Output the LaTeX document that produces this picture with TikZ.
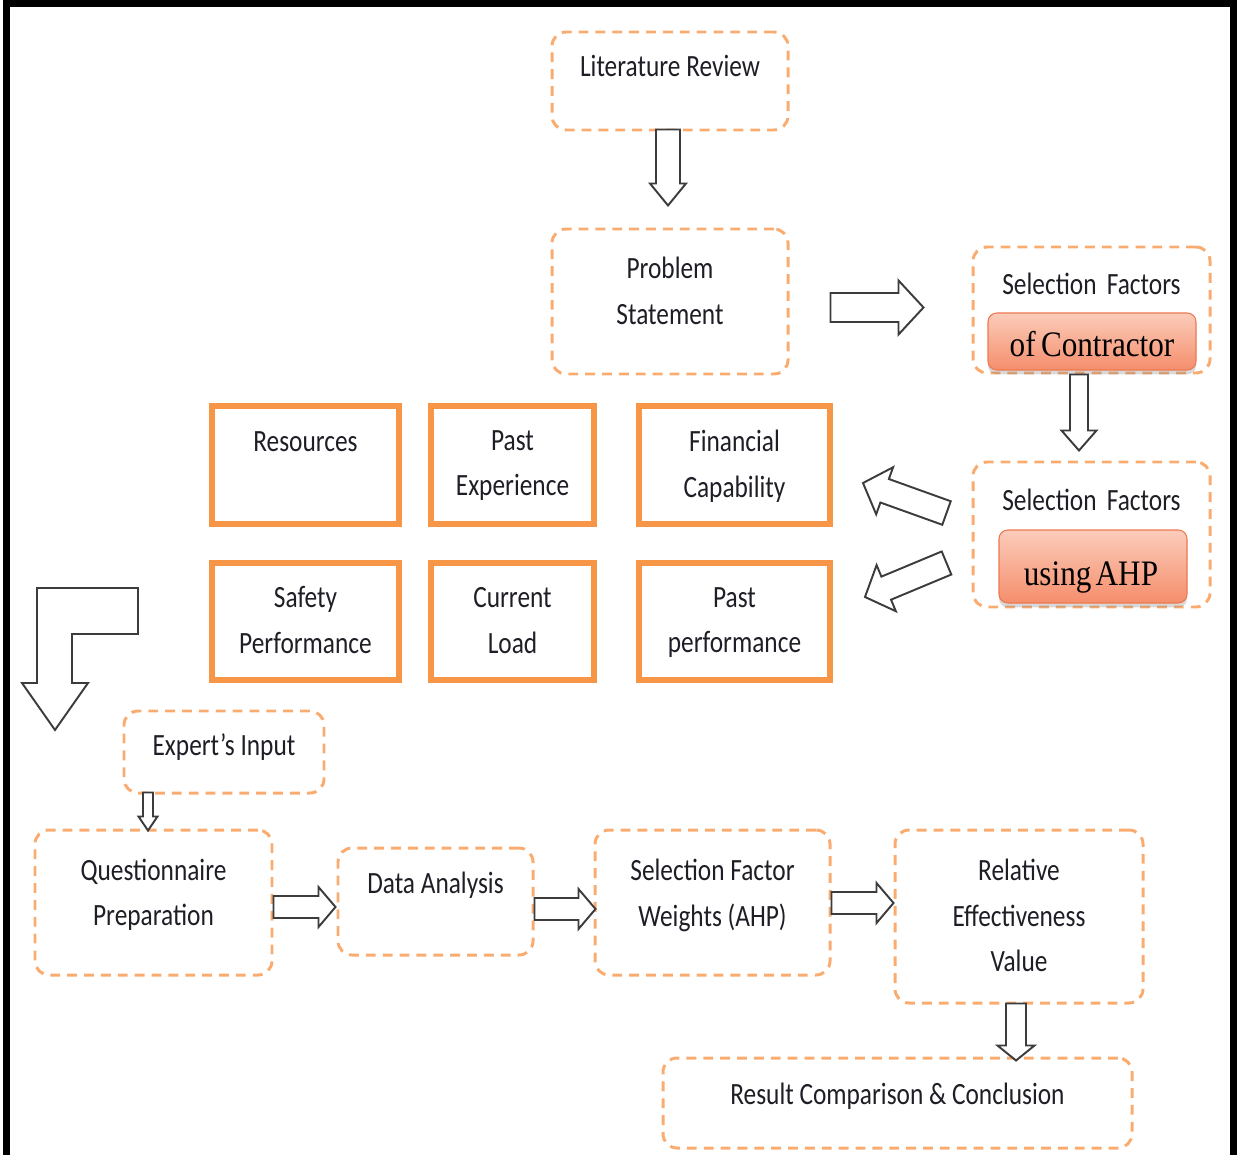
\documentclass[tikz,border=0pt]{standalone}
\usepackage{fontspec}
\newfontfamily\calib[FakeStretch=0.82]{Carlito}
\newfontfamily\tms[FakeStretch=0.87]{Liberation Serif}
\usetikzlibrary{calc,positioning,shadows}

\definecolor{dashorange}{RGB}{250,172,112}
\definecolor{boxorange}{RGB}{247,150,70}
\definecolor{arrowgray}{RGB}{60,60,60}
\definecolor{redorange}{RGB}{236,120,80}
\definecolor{peachtop}{RGB}{251,204,186}
\definecolor{peachbot}{RGB}{245,142,108}
\definecolor{txtgray}{RGB}{30,30,38}

\tikzset{
  boxsize/.style 2 args={minimum width=#1*0.02cm, minimum height=#2*0.02cm},
  dbox/.style={draw=dashorange, line width=1.7pt, dash pattern=on 5.6pt off 4pt, rounded corners=8pt, inner sep=0pt},
  obox/.style={draw=boxorange, line width=3.4pt, inner sep=0pt},
  pbox/.style={draw=redorange, line width=0.6pt, rounded corners=5pt, top color=peachtop, bottom color=peachbot,
    drop shadow={shadow xshift=0pt, shadow yshift=-2.5pt, opacity=0.3}, inner sep=0pt},
  lbl/.style={font=\calib\fontsize{17.6}{26}\selectfont, text=txtgray, align=center, inner sep=0pt,
    execute at begin node=\strut},
  serif/.style={font=\tms\fontsize{20.4}{24}\selectfont, text=black, inner sep=0pt, anchor=base},
  barrow/.style n args={3}{draw=arrowgray, fill=white, line width=1.1pt, line join=miter,
    to path={let \p1=(\tikztostart), \p2=(\tikztotarget), \p3=($(\p2)!#3*0.02cm!(\p1)$) in
      -- ($(\p1)!#1*0.02cm!90:(\p2)$) -- ($(\p3)!#1*0.02cm!90:(\p2)$) -- ($(\p3)!#2*0.02cm!90:(\p2)$)
      -- (\p2) -- ($(\p3)!#2*0.02cm!-90:(\p2)$) -- ($(\p3)!#1*0.02cm!-90:(\p2)$)
      -- ($(\p1)!#1*0.02cm!-90:(\p2)$) -- cycle}},
}

\begin{document}
\begin{tikzpicture}[x=0.02cm, y=-0.02cm]
\useasboundingbox (0,0) rectangle (1240,1155);

\draw[line width=0.14cm] (6.5,1170) -- (6.5,3.5) -- (1233.5,3.5) -- (1233.5,1170);

% top column
\node[dbox, boxsize={236}{98}] (lit) at (670,81) {};
\node[lbl, below=0.28cm of lit.north] (litT) {Literature Review};
\node[dbox, boxsize={236}{145}] (prob) at (670,301.5) {};
\node[lbl, below=0.58cm of prob.north] (probT) {Problem\\Statement};

% selection factors
\node[dbox, boxsize={237}{126}] (sf1) at (1091.5,310) {};
\node[lbl, below=0.34cm of sf1.north] (sf1T) {Selection\,\,Factors};
\node[pbox, boxsize={208}{57}] (contr) at (1092,341.5) {};
\node[serif] (contrT) at ($(contr.center)+(0,15.5)$) {of\hspace{0.15em}Contractor};

\node[dbox, boxsize={237}{145}] (sf2) at (1091.5,534.5) {};
\node[lbl, below=0.36cm of sf2.north] (sf2T) {Selection\,\,Factors};
\node[pbox, boxsize={188}{73}] (ahp) at (1093,566.5) {};
\node[serif] (ahpT) at ($(ahp.center)+(-2,18.5)$) {using\hspace{0.12em}AHP};

% factors
\node[obox, boxsize={187}{118}] (res) at (305.5,465) {};
\node[lbl, below=0.32cm of res.north] (resT) {Resources};
\node[obox, boxsize={163}{118}] (pexp) at (512.5,465) {};
\node[lbl, below=0.54cm of pexp.north] (pexpT) {Past\\Experience};
\node[obox, boxsize={191}{118}] (fin) at (734.5,465) {};
\node[lbl, below=0.54cm of fin.north] (finT) {Financial\\Capability};
\node[obox, boxsize={187}{117}] (safe) at (305.5,621.5) {};
\node[lbl, below=0.52cm of safe.north] (safeT) {Safety\\Performance};
\node[obox, boxsize={163}{117}] (load) at (512.5,621.5) {};
\node[lbl, below=0.54cm of load.north] (loadT) {Current\\Load};
\node[obox, boxsize={191}{117}] (pperf) at (734.5,621.5) {};
\node[lbl, below=0.54cm of pperf.north] (pperfT) {Past\\performance};

% bottom row
\node[dbox, boxsize={200}{82}] (expert) at (224,752) {};
\node[lbl, below=0.28cm of expert.north] (expertT) {Expert’s Input};
\node[dbox, boxsize={237}{145}] (quest) at (153.5,902.5) {};
\node[lbl, below=0.6cm of quest.north] (questT) {Questionnaire\\Preparation};
\node[dbox, boxsize={195}{107}] (data) at (435.5,901.5) {};
\node[lbl, below=0.3cm of data.north] (dataT) {Data Analysis};
\node[dbox, boxsize={235}{145}] (sfw) at (712.5,902.5) {};
\node[lbl, below=0.6cm of sfw.north] (sfwT) {Selection Factor\\Weights (AHP)};
\node[dbox, boxsize={248}{173}] (releff) at (1019,916.5) {};
\node[lbl, below=0.6cm of releff.north] (releffT) {Relative\\Effectiveness\\Value};
\node[dbox, boxsize={469}{90}] (result) at (897.5,1103) {};
\node[lbl, below=0.32cm of result.north] (resultT) {Result Comparison \& Conclusion};

% block arrows
\draw[barrow={12}{18}{22}] ($(lit.south)+(-2,-2)$) to ($(prob.north)+(-2,-22)$);
\draw[barrow={14.5}{27}{25}] ($(prob.east)+(41,6)$) to ($(sf1.west)+(-48,-2.5)$);
\draw[barrow={9}{17.5}{20}] ($(sf1.south)+(-12.5,0)$) to ($(sf2.north)+(-12.5,-10)$);
\draw[barrow={12.5}{25}{23}] ($(sf2.west)+(-25,-21.5)$) to ($(fin.east)+(30,18)$);
\draw[barrow={12.5}{25}{23}] ($(sf2.west)+(-25,28.5)$) to ($(pperf.east)+(32,-24.5)$);
\draw[barrow={5}{9.5}{14}] ($(quest.north |- expert.south)+(-5.5,-2)$) to ($(quest.north)+(-5.5,2)$);
\draw[barrow={11}{20}{17}] ($(quest.east)+(0,4.5)$) to ($(data.west)+(-1,5.5)$);
\draw[barrow={11}{20}{17}] ($(data.east)+(0,7.5)$) to ($(sfw.west)+(2,6.5)$);
\draw[barrow={11}{20}{17}] ($(sfw.east)+(0,0.5)$) to ($(releff.west)+(0,-13.5)$);
\draw[barrow={10}{18.5}{15}] ($(releff.south)+(-3,-1)$) to ($(releff.south |- result.north)+(-3,4)$);

\draw[draw=arrowgray, fill=white, line width=1.1pt, line join=miter]
  (37,588) -- (138,588) -- (138,634) -- (72,634) -- (72,683) -- (88,683) -- (55,730) -- (22,683) -- (37,683) -- cycle;

\end{tikzpicture}
\end{document}
